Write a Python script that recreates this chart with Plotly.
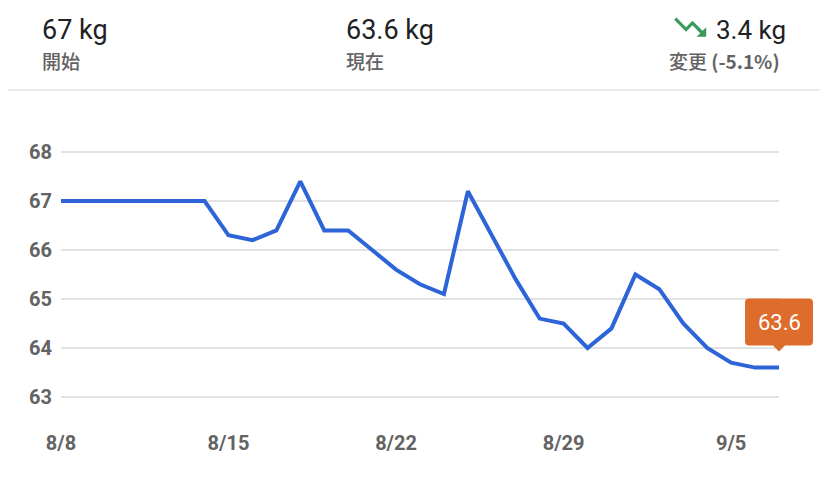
import plotly.graph_objects as go
import pandas as pd

# ---- data ----
dates = pd.date_range("2021-08-08", "2021-09-07", freq="D")
weights = [67.0, 67.0, 67.0, 67.0, 67.0, 67.0, 67.0,
           66.3, 66.2, 66.4, 67.4, 66.4, 66.4, 66.0, 65.6, 65.3, 65.1,
           67.2, 66.3, 65.4, 64.6, 64.5, 64.0, 64.4, 65.5, 65.2, 64.5,
           64.0, 63.7, 63.6, 63.6]
x_tick_dates = ["2021-08-08", "2021-08-15", "2021-08-22", "2021-08-29", "2021-09-05"]
x_tick_labels = ["8/8", "8/15", "8/22", "8/29", "9/5"]
y_ticks = [63, 64, 65, 66, 67, 68]
start_label = "開始"
current_label = "現在"
change_label = "変更"

start_w = weights[0]
cur_w = weights[-1]
diff = start_w - cur_w
pct = (cur_w - start_w) / start_w * 100

# ---- layout geometry (page body has an 8px margin) ----
OFF = 8
W, H = 828 - OFF, 490 - OFF
L, R, T, B = 61 - OFF, 779 - OFF, 127 - OFF, 421 - OFF
PW, PH = R - L, B - T

def px(xp):
    return (xp - OFF - L) / PW

def py(yp):
    return (B - (yp - OFF)) / PH

BLUE = "#2d64d8"
ORANGE = "#dd6c2d"
GREEN = "#3a9a5c"
GRAY = "#636363"
DARK = "#202124"
NUMFONT = "Roboto, Noto Sans CJK JP, sans-serif"
CJK = "Noto Sans CJK JP, Roboto, sans-serif"

fig = go.Figure()
fig.add_trace(go.Scatter(
    x=dates, y=weights, mode="lines",
    line=dict(color=BLUE, width=4, shape="linear"),
    hoverinfo="skip", showlegend=False, cliponaxis=False,
))

fig.update_layout(
    width=W, height=H,
    margin=dict(l=L, r=W - R, t=T, b=H - B, pad=0),
    paper_bgcolor="white", plot_bgcolor="white",
    showlegend=False,
    xaxis=dict(
        type="date",
        range=[dates[0], dates[-1]],
        tickvals=x_tick_dates, ticktext=x_tick_labels,
        showgrid=False, zeroline=False, showline=False,
        ticks="", ticklabelstandoff=8,
        tickfont=dict(family=NUMFONT, size=20, color=GRAY, weight="bold"),
        fixedrange=True,
    ),
    yaxis=dict(
        range=[62.51, 68.51],
        tickvals=y_ticks, ticktext=[str(v) for v in y_ticks],
        showgrid=True, gridcolor="#e2e2e2", gridwidth=2,
        zeroline=False, showline=False, ticks="",
        ticklabelstandoff=8,
        tickfont=dict(family=NUMFONT, size=20, color=GRAY, weight="bold"),
        fixedrange=True,
    ),
)

annotations = []

def header(text, xp, yp, size, color, xanchor="left", family=NUMFONT, weight="normal"):
    annotations.append(dict(
        xref="paper", yref="paper", x=px(xp), y=py(yp), text=text,
        showarrow=False, xanchor=xanchor, yanchor="middle",
        font=dict(family=family, size=size, color=color, weight=weight),
    ))

header(f"{start_w:g} kg", 40, 30, 27, DARK)
header(start_label, 40, 60, 19, GRAY, family=CJK, weight=500)
header(f"{cur_w:g} kg", 344, 30, 27, DARK)
header(current_label, 344, 60, 19, GRAY, family=CJK, weight=500)
header(f"{diff:.1f} kg", 788, 30, 26, DARK, xanchor="right")
header(f"{change_label} <b>({pct:.1f}%)</b>", 782, 60, 19, GRAY, xanchor="right", family=CJK, weight=500)

# callout label for the last value
annotations.append(dict(
    xref="paper", yref="y", x=1, y=cur_w, text=f"{cur_w:g}",
    showarrow=False, xanchor="center", yanchor="middle", yshift=45,
    font=dict(family=NUMFONT, size=22, color="white"),
))
fig.update_layout(annotations=annotations)

shapes = []
# separator line under header
shapes.append(dict(type="line", xref="paper", yref="paper",
                   x0=px(0), x1=px(828), y0=py(90), y1=py(90),
                   line=dict(color="#ebebeb", width=2), layer="above"))

# callout bubble (pixels relative to the last point, y up)
bubble = ("M -30,69 L 30,69 Q 34,69 34,65 L 34,26 Q 34,22 30,22 L 6,22 L 0,16 "
          "L -6,22 L -30,22 Q -34,22 -34,26 L -34,65 Q -34,69 -30,69 Z")
shapes.append(dict(type="path", xref="paper", yref="y",
                   xsizemode="pixel", ysizemode="pixel",
                   xanchor=1, yanchor=cur_w, path=bubble,
                   fillcolor=ORANGE, line=dict(width=0), layer="above"))

# trending-down icon (material style), drawn in pixel units
icon_pts = [(16, 18), (18.29, 15.71), (13.41, 10.83), (9.41, 14.83), (2, 7.41),
            (3.41, 6), (9.41, 12), (13.41, 8), (19.71, 14.29), (22, 12), (22, 18)]
s = 1.6
ipath = "M " + " L ".join(f"{s*ix:.2f},{-s*iy:.2f}" for ix, iy in icon_pts) + " Z"
shapes.append(dict(type="path", xref="paper", yref="paper",
                   xsizemode="pixel", ysizemode="pixel",
                   xanchor=px(671), yanchor=py(8), path=ipath,
                   fillcolor=GREEN, line=dict(width=0), layer="above"))
fig.update_layout(shapes=shapes)

fig.write_html("out.html", config=dict(displayModeBar=False, staticPlot=True))
